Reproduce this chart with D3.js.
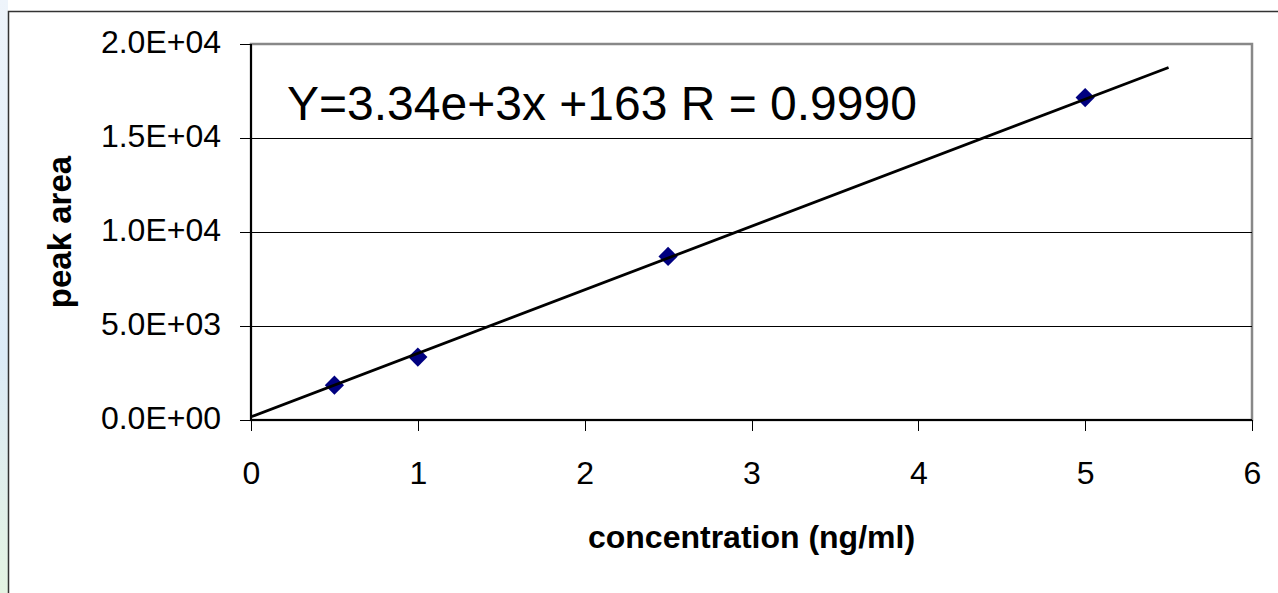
<!DOCTYPE html>
<html>
<head>
<meta charset="utf-8">
<script src="https://cdn.jsdelivr.net/npm/d3@7"></script>
<style>
  body { margin: 0; background: #fff; }
  svg { display: block; font-family: "Liberation Sans", Arial, sans-serif; }
</style>
</head>
<body>
<svg id="chart" width="1278" height="593"></svg>
<script>
var width = 1278;
var height = 593;

// data
var concentration = [0.5, 1, 2.5, 5];
var peakArea = [1850, 3350, 8700, 17150];
var trendX = [0, 5.5];
var trendY = [170, 18750];
var xTicks = [0, 1, 2, 3, 4, 5, 6];
var yTicks = [0, 5000, 10000, 15000, 20000];
var yTickLabels = ['0.0E+00', '5.0E+03', '1.0E+04', '1.5E+04', '2.0E+04'];
var equation = 'Y=3.34e+3x +163 R = 0.9990';

var plot = { left: 251, top: 44, right: 1252, bottom: 420 };

var svg = d3.select('#chart');

// light gradient strip on the left edge
var defs = svg.append('defs');
var grad = defs.append('linearGradient')
  .attr('id', 'edge')
  .attr('x1', 0).attr('y1', 0).attr('x2', 0).attr('y2', 1);
grad.append('stop').attr('offset', '0%').attr('stop-color', '#eef4fb');
grad.append('stop').attr('offset', '60%').attr('stop-color', '#dcebf7');
grad.append('stop').attr('offset', '100%').attr('stop-color', '#e4f3e2');

svg.append('rect')
  .attr('x', 0).attr('y', 0)
  .attr('width', 8).attr('height', height)
  .attr('fill', 'url(#edge)');

// chart area border
svg.append('rect')
  .attr('x', 8.5).attr('y', 11.5)
  .attr('width', width + 10).attr('height', height + 10)
  .attr('fill', '#fff')
  .attr('stroke', '#333')
  .attr('stroke-width', 1.5);

var x = d3.scaleLinear()
  .domain([0, 6])
  .range([plot.left, plot.right]);

var y = d3.scaleLinear()
  .domain([0, 20000])
  .range([plot.bottom, plot.top]);

// plot area border
svg.append('rect')
  .attr('x', plot.left).attr('y', plot.top)
  .attr('width', plot.right - plot.left)
  .attr('height', plot.bottom - plot.top)
  .attr('fill', '#fff')
  .attr('stroke', '#888')
  .attr('stroke-width', 2.5);

// gridlines
svg.append('g')
  .selectAll('line')
  .data(yTicks.filter(function(d) { return d > 0 && d < 20000; }))
  .enter()
  .append('line')
  .attr('x1', plot.left)
  .attr('x2', plot.right)
  .attr('y1', function(d) { return Math.round(y(d)) + 0.5; })
  .attr('y2', function(d) { return Math.round(y(d)) + 0.5; })
  .attr('stroke', '#000')
  .attr('stroke-width', 1)
  .attr('shape-rendering', 'crispEdges');

// axes
var xAxis = svg.append('g')
  .attr('transform', 'translate(0,' + plot.bottom + ')')
  .call(d3.axisBottom(x).tickValues(xTicks).tickSize(11).tickPadding(30).tickFormat(d3.format('d')));

var yAxis = svg.append('g')
  .attr('transform', 'translate(' + plot.left + ',0)')
  .call(d3.axisLeft(y).tickValues(yTicks).tickSize(11).tickPadding(19)
    .tickFormat(function(d, i) { return yTickLabels[i]; }));

[xAxis, yAxis].forEach(function(g) {
  g.select('.domain').attr('stroke', '#000').attr('stroke-width', 2);
  g.selectAll('.tick line')
    .attr('stroke', '#000')
    .attr('stroke-width', 1)
    .attr('shape-rendering', 'crispEdges');
  g.selectAll('.tick text')
    .attr('fill', '#000')
    .style('font-size', '32px')
    .style('font-family', '"Liberation Sans", Arial, sans-serif');
});
xAxis.select('.domain').attr('d', 'M' + plot.left + ',0H' + plot.right);
yAxis.select('.domain').attr('d', 'M0,' + plot.bottom + 'V' + plot.top);
yAxis.selectAll('.tick text').attr('dy', '0.26em');
xAxis.selectAll('.tick text').attr('dy', '0.72em');

// markers
svg.append('g')
  .selectAll('path')
  .data(concentration)
  .enter()
  .append('path')
  .attr('d', d3.symbol().type(d3.symbolSquare).size(185))
  .attr('transform', function(d, i) {
    return 'translate(' + x(d) + ',' + y(peakArea[i]) + ') rotate(45)';
  })
  .attr('fill', '#000080');

// trend line
var line = d3.line()
  .x(function(d) { return x(d); })
  .y(function(d, i) { return y(trendY[i]); });

svg.append('path')
  .datum(trendX)
  .attr('d', line)
  .attr('fill', 'none')
  .attr('stroke', '#000')
  .attr('stroke-width', 2.8);

// equation
svg.append('text')
  .attr('x', 287)
  .attr('y', 120)
  .style('font-size', '48px')
  .attr('fill', '#000')
  .text(equation);

// axis titles
svg.append('text')
  .attr('x', (plot.left + plot.right) / 2)
  .attr('y', 548)
  .attr('text-anchor', 'middle')
  .style('font-size', '32px')
  .style('font-weight', 'bold')
  .text('concentration (ng/ml)');

svg.append('text')
  .attr('transform', 'translate(71,' + ((plot.top + plot.bottom) / 2) + ') rotate(-90)')
  .attr('text-anchor', 'middle')
  .style('font-size', '33px')
  .style('font-weight', 'bold')
  .text('peak area');
</script>
</body>
</html>
